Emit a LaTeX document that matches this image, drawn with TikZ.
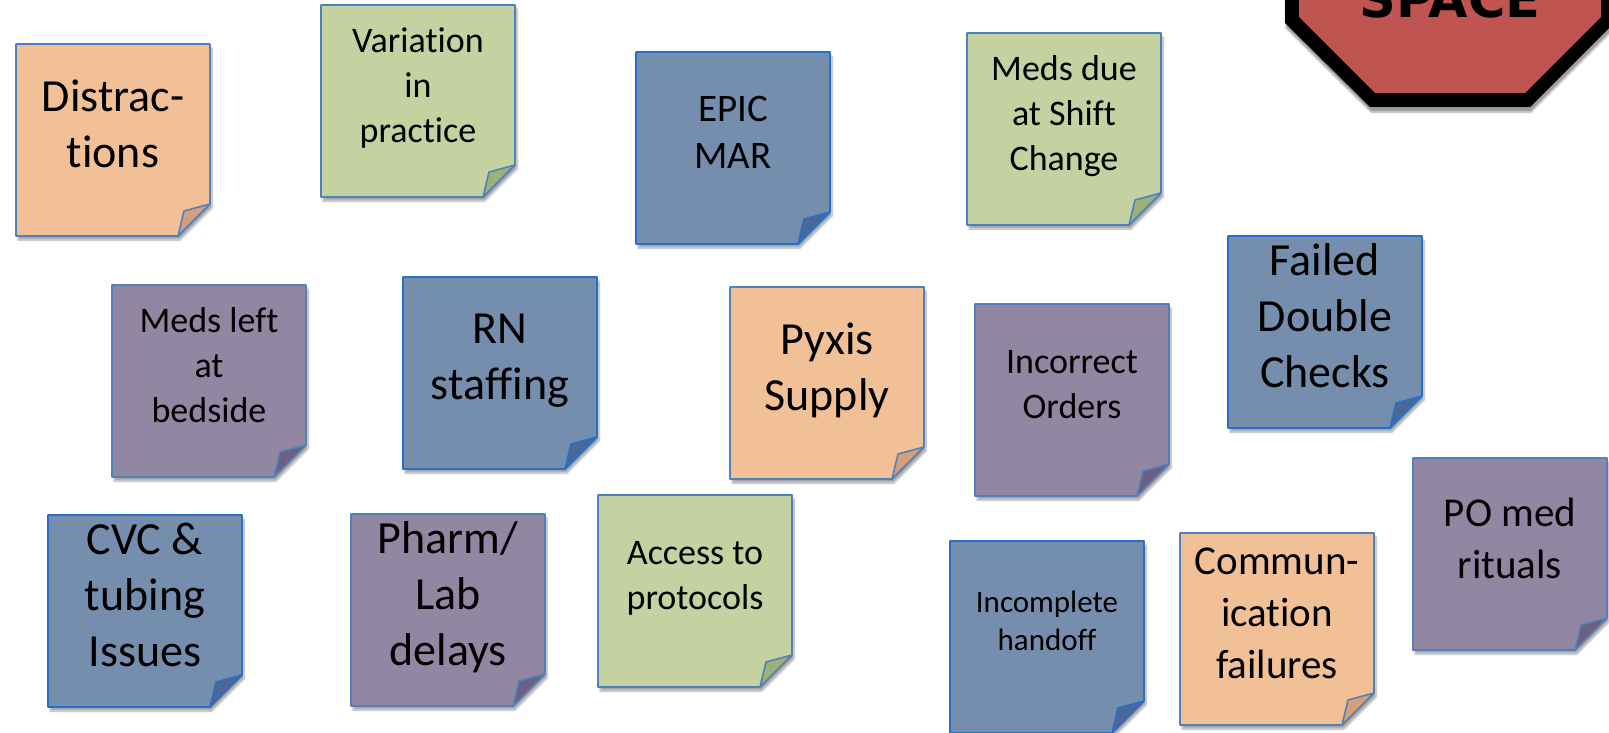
\documentclass[tikz,border=0pt]{standalone}
\usepackage{fontspec}
\setmainfont{Carlito}[Ligatures={NoCommon,NoContextual}]
\newfontfamily\signfont{DejaVu Sans}
\usetikzlibrary{backgrounds,shadows.blur}

% note colours, body and folded corner
\definecolor{peach}{RGB}{242,192,151}
\definecolor{foldpeach}{RGB}{212,160,122}
\definecolor{sage}{RGB}{196,210,161}
\definecolor{foldsage}{RGB}{158,176,122}
\definecolor{slate}{RGB}{118,142,173}
\definecolor{foldslate}{RGB}{76,104,148}
\definecolor{mauve}{RGB}{145,135,162}
\definecolor{foldmauve}{RGB}{108,96,130}
\definecolor{edge}{RGB}{79,129,189}
\definecolor{edgeblue}{RGB}{38,112,200}
\definecolor{signred}{RGB}{192,84,80}

\begin{document}
\begin{tikzpicture}[x=1pt, y=-1pt]
    \tikzset{
        note/.style  = {rectangle, minimum width=194pt, minimum height=192pt,
                        inner sep=0pt, outer sep=0pt, align=center, text depth=32pt},
        big/.style   = {note, font=\fontsize{46}{56}\selectfont},
        mid/.style   = {note, font=\fontsize{36}{45}\selectfont},
        small/.style = {note, font=\fontsize{31}{38}\selectfont},
        body/.style  = {line width=1.6pt, line join=round,
                        blur shadow={shadow xshift=2pt, shadow yshift=-4pt,
                                     shadow blur steps=8, shadow opacity=35}},
        flap/.style  = {line width=1.6pt, line join=round}
    }
    \useasboundingbox (0,0) rectangle (1609,733);

    % stop sign, cut by the top right corner
    \fill[black, blur shadow={shadow xshift=1pt, shadow yshift=-5pt, shadow opacity=40}]
        (1285,-60) -- (1285,23) -- (1370,107) -- (1530,107) -- (1615,22) -- (1615,-60) -- cycle;
    \fill[signred]
        (1299,-60) -- (1299,17) -- (1375,93) -- (1525,93) -- (1601,17) -- (1601,-60) -- cycle;
    \node[anchor=base, font=\signfont\bfseries\fontsize{51}{51}\selectfont] (space) at (1450,18) {SPACE};

    % the notes
    \node[big]   (distr)   at (113,140)    {Distrac-\\tions};
    \node[mid]   (variat)  at (418,101)    {Variation\\in\\practice};
    \node[mid, font=\fontsize{39}{47}\selectfont] (epic) at (733,148) {EPIC\\MAR};
    \node[mid]   (shift)   at (1064,129)   {Meds due\\at Shift\\Change};
    \node[mid]   (bedside) at (209,381)    {Meds left\\at\\bedside};
    \node[big]   (rn)      at (500,373)    {RN\\staffing};
    \node[big]   (pyxis)   at (827,383)    {Pyxis\\Supply};
    \node[mid]   (orders)  at (1072,400)   {Incorrect\\Orders};
    \node[big]   (failed)  at (1325,332)   {Failed\\Double\\Checks};
    \node[big]   (cvc)     at (145,611)    {CVC \&\\tubing\\Issues};
    \node[big]   (pharm)   at (448,610)    {Pharm/\\Lab\\delays};
    \node[mid]   (access)  at (695,591)    {Access to\\protocols};
    \node[small] (handoff) at (1047,637)   {Incomplete\\handoff};
    \node[big, font=\fontsize{41}{52}\selectfont] (comm) at (1277,629) {Commun-\\ication\\failures};
    \node[big, font=\fontsize{41}{52}\selectfont] (ritual) at (1510,554) {PO med\\rituals};

    % paper with a curled corner behind each text
    \begin{scope}[on background layer]
        \foreach \n/\c/\e in {distr/peach/edge, variat/sage/edge, epic/slate/edgeblue,
                              shift/sage/edge, bedside/mauve/edge, rn/slate/edgeblue,
                              pyxis/peach/edge, orders/mauve/edge, failed/slate/edgeblue,
                              cvc/slate/edgeblue, pharm/mauve/edge, access/sage/edge,
                              handoff/slate/edgeblue, comm/peach/edge, ritual/mauve/edge} {
            \draw[body, draw=\e, fill=\c] (\n.north west) -- (\n.north east)
                -- ([yshift=32pt]\n.south east) -- ([xshift=-32pt]\n.south east)
                -- (\n.south west) -- cycle;
            \draw[flap, draw=\e, fill=fold\c] ([yshift=32pt]\n.south east)
                -- ([xshift=-26pt, yshift=25pt]\n.south east)
                -- ([xshift=-32pt]\n.south east) -- cycle;
        }
    \end{scope}
\end{tikzpicture}
\end{document}
